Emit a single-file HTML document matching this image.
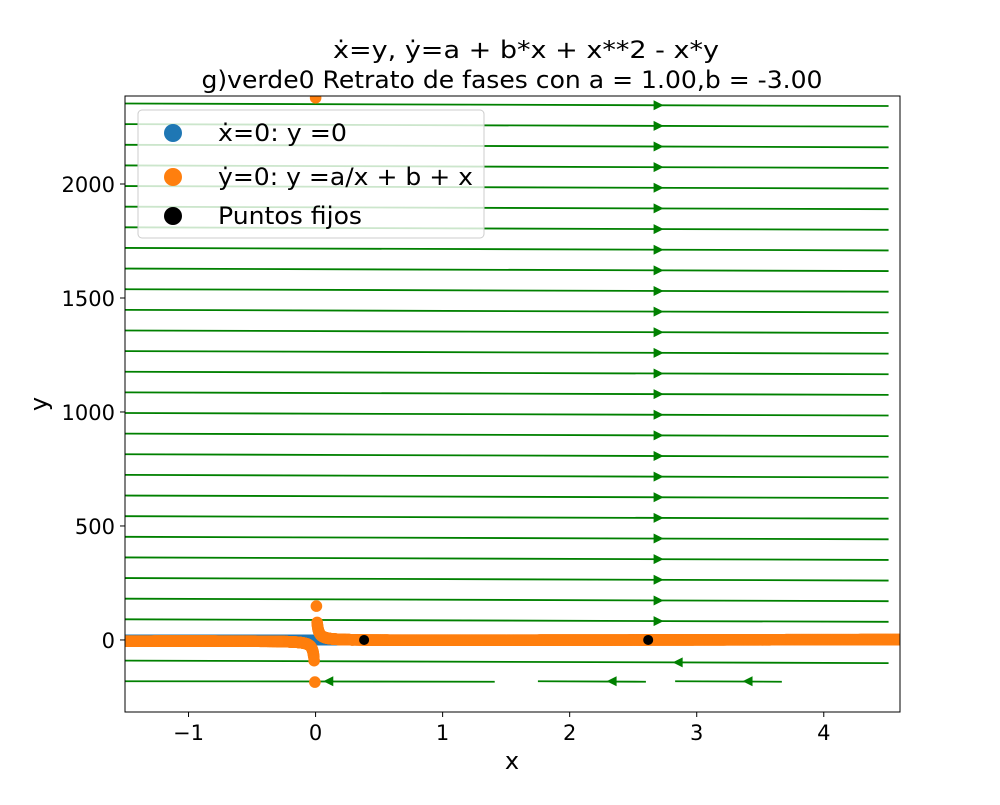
<!DOCTYPE html>
<html><head><meta charset="utf-8"><style>
body{margin:0;background:#fff;}
svg text{font-family:"DejaVu Sans","Liberation Sans",sans-serif;}
</style></head><body>
<svg id="chart" width="1000" height="800" viewBox="0 0 1000 800" xmlns="http://www.w3.org/2000/svg">
<defs><clipPath id="clip"><rect x="125" y="96" width="775" height="616"/></clipPath></defs>
<rect width="1000" height="800" fill="#fff"/>
<text x="526" y="58" font-size="24" text-anchor="middle" textLength="386" lengthAdjust="spacingAndGlyphs">ẋ=y, ẏ=a + b*x + x**2 - x*y</text>
<text x="512" y="88" font-size="24" text-anchor="middle" textLength="621" lengthAdjust="spacingAndGlyphs">g)verde0 Retrato de fases con a = 1.00,b = -3.00</text>
<g id="plot" clip-path="url(#clip)"></g>
<rect x="125" y="96" width="775" height="616" fill="none" stroke="#000" stroke-width="1"/>
<g id="axes"></g>
<g>
<rect x="138" y="110" width="346" height="128" rx="4" fill="#fff" fill-opacity="0.8" stroke="#ccc"/>
<circle cx="173" cy="133" r="9" fill="#1f77b4"/>
<text x="218" y="141" font-size="24" textLength="129" lengthAdjust="spacingAndGlyphs">ẋ=0: y =0</text>
<circle cx="173" cy="177" r="9" fill="#ff7f0e"/>
<text x="218" y="185" font-size="24" textLength="255" lengthAdjust="spacingAndGlyphs">ẏ=0: y =a/x + b + x</text>
<circle cx="173" cy="216" r="9" fill="#000"/>
<text x="218" y="224" font-size="24" textLength="144" lengthAdjust="spacingAndGlyphs">Puntos fijos</text>
</g>
<text x="512" y="769" font-size="24" text-anchor="middle">x</text>
<text x="47" y="404" font-size="24" text-anchor="middle" transform="rotate(-90 47 404)">y</text>
</svg>
<script>
const aParam = 1.0;
const bParam = -3.0;
const xTicks = [-1, 0, 1, 2, 3, 4];
const yTicks = [0, 500, 1000, 1500, 2000];
const streamYs = [-181, -90.5, 90.5, 181, 271.5, 362, 452.5, 543, 633.5, 724, 814.5, 905, 995.5, 1086, 1176.5, 1267, 1357.5, 1448, 1538.5, 1629, 1719.5, 1810, 1900.5, 1991, 2081.5, 2172, 2262.5, 2353];
const lowSegments = [[-1.5, 1.41, 0.1], [1.75, 2.6, 2.33], [2.83, 3.67, 3.4]];
const isolatedOrangeX = [0.00042, 0.0066, 0.0125, -0.0114, -0.0055];
const fixedX = [0.382, 2.618];
const xMin=-1.5, xMax=4.6, yMin=-316, yMax=2386;
const L=125,R=900,T=96,B=712;
const sx=v=>L+(v-xMin)/(xMax-xMin)*(R-L);
const sy=v=>B-(v-yMin)/(yMax-yMin)*(B-T);
const NS='http://www.w3.org/2000/svg';
const plot=document.getElementById('plot'), axes=document.getElementById('axes');
function mk(tag,attrs,parent){const e=document.createElementNS(NS,tag);for(const k in attrs)e.setAttribute(k,attrs[k]);parent.appendChild(e);return e;}
function arrow(x,y,dir,parent){const s=5;const p=dir>0?`${x+s},${y} ${x-s},${y-s} ${x-s},${y+s}`:`${x-s},${y} ${x+s},${y-s} ${x+s},${y+s}`;
const a=mk('polygon',{points:p,fill:'green'},parent);

}
const xEnd=4.51;
streamYs.forEach(v=>{
  if(v>-150){
    const drop=2.5;
    const l=mk('line',{x1:sx(-1.5),y1:sy(v),x2:sx(xEnd),y2:sy(v)+drop,stroke:'green','stroke-width':1.8},plot);
    
    
    if(v>0) arrow(sx(2.7),sy(v)+drop*(2.7+1.5)/(xEnd+1.5),1,plot);
    else arrow(sx(2.85),sy(v)+drop*(2.85+1.5)/(xEnd+1.5),-1,plot);
  } else {
    lowSegments.forEach(sg=>{
      const l=mk('line',{x1:sx(sg[0]),y1:sy(v),x2:sx(sg[1]),y2:sy(v)+0.5,stroke:'green','stroke-width':1.8},plot);
      
      
      arrow(sx(sg[2]),sy(v),-1,plot);
    });
  }
});
const bl=mk('line',{x1:L,y1:sy(0),x2:R,y2:sy(0),stroke:'#1f77b4','stroke-width':11},plot);


const f=x=>aParam/x+bParam+x;
const og=mk('g',{fill:'#ff7f0e'},plot);


for(let i=0;i<=1200;i++){const x=xMin+(xMax-xMin)*i/1200; if(Math.abs(x)<0.014)continue; const y=f(x); if(y<yMin||y>yMax)continue;
  mk('circle',{cx:sx(x),cy:sy(y),r:5.8},og);}
for(let x=0.014;x<0.3;x+=0.002){mk('circle',{cx:sx(x),cy:sy(f(x)),r:5.8},og);mk('circle',{cx:sx(-x),cy:sy(f(-x)),r:5.8},og);}
isolatedOrangeX.forEach(x=>{const y=f(x);mk('circle',{cx:sx(x),cy:sy(Math.min(y,yMax-2)),r:5.8},og);});
fixedX.forEach(x=>{const c=mk('circle',{cx:sx(x),cy:sy(0),r:5,fill:'#000'},plot);

});
xTicks.forEach(t=>{const x=sx(t);mk('line',{x1:x,y1:B,x2:x,y2:B+5,stroke:'#000'},axes);
const tx=mk('text',{x:x,y:B+28,'font-size':21,'text-anchor':'middle'},axes);tx.textContent=t<0?'−'+(-t):String(t);

});
yTicks.forEach(t=>{const y=sy(t);mk('line',{x1:L-5,y1:y,x2:L,y2:y,stroke:'#000'},axes);
const tx=mk('text',{x:L-10,y:y+8,'font-size':21,'text-anchor':'end'},axes);tx.textContent=String(t);

});
</script>
</body></html>
